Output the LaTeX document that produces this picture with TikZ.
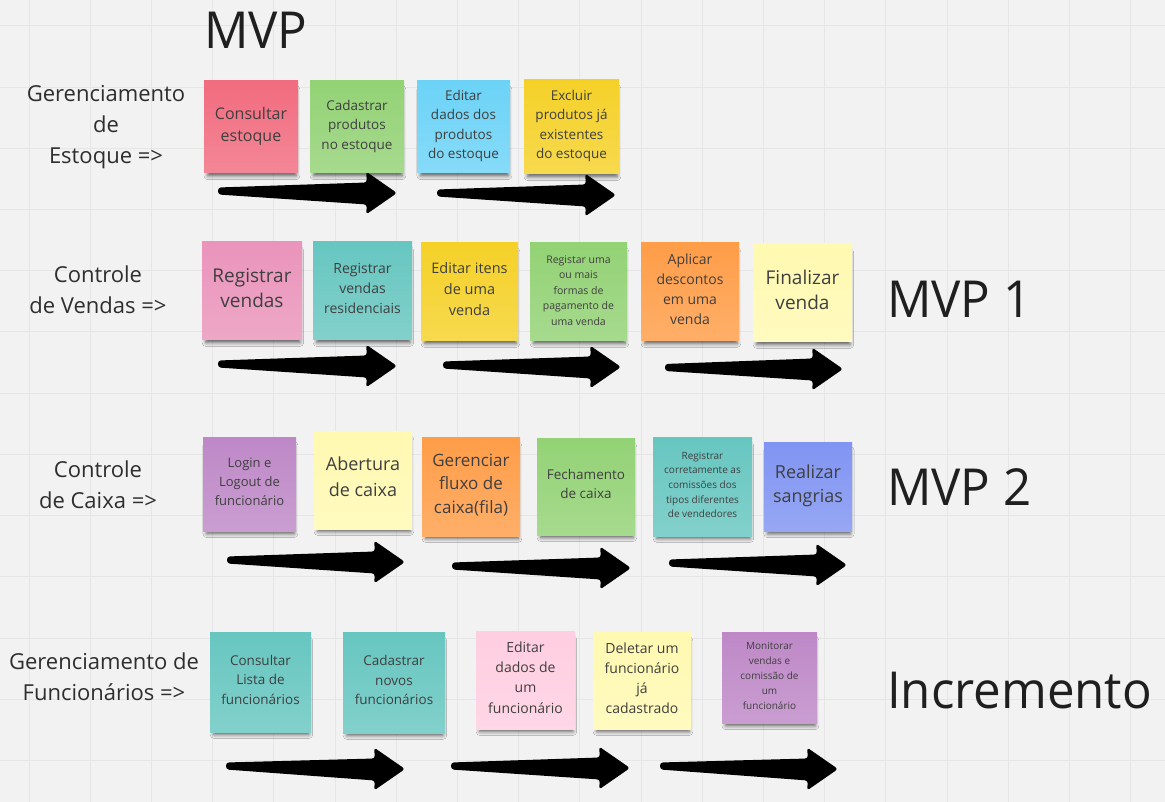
\documentclass[tikz,border=0pt]{standalone}
\usepackage{fontspec}
\setmainfont{Open Sans}
\newfontfamily\titlefont[FakeStretch=0.965]{Open Sans}
\usetikzlibrary{shadows.blur,calc}
\definecolor{bgc}{HTML}{F2F2F2}
\definecolor{gridc}{HTML}{E6E6E6}
\definecolor{nred}{HTML}{F16C7F}
\definecolor{ngreen}{HTML}{93D275}
\definecolor{nblue}{HTML}{6CD3F7}
\definecolor{nyellow}{HTML}{F5D128}
\definecolor{npink}{HTML}{EA94BB}
\definecolor{ncyan}{HTML}{67C6C0}
\definecolor{norange}{HTML}{FF9D48}
\definecolor{nlyellow}{HTML}{FFF9B1}
\definecolor{nviolet}{HTML}{BE88C7}
\definecolor{ndblue}{HTML}{8094F2}
\definecolor{nlpink}{HTML}{FFCEE0}
\definecolor{notetext}{HTML}{3F3F3F}
\definecolor{labtext}{HTML}{2E2E2E}
\newcommand\fatarrow[2]{%
  \fill[arrowfill] ($(#1)+(0,-3.5)$) -- ($(#2)+(-30,-10.5)$) -- ($(#2)+(-31,-21.5)$)
    -- (#2) -- ($(#2)+(-31,21.5)$) -- ($(#2)+(-30,11.5)$) -- ($(#1)+(0,3.5)$) -- cycle;}
\tikzset{
  note/.style={draw=none, inner sep=0pt, align=center, text=notetext,
    top color=#1, bottom color=#1!82!white,
    execute at begin node={\rule{0pt}{0.7\baselineskip}},
    execute at end node={\rule[-\dimexpr0.3\baselineskip-1pt\relax]{0pt}{0pt}},
    blur shadow={shadow xshift=1pt, shadow yshift=-6pt, shadow scale=0.94,
      shadow opacity=62, shadow blur radius=4pt}},
  lab/.style={align=center, inner sep=0pt, text=labtext,
    font=\fontsize{22}{31}\selectfont},
  bigtitle/.style={inner sep=0pt, anchor=base west, text=black!88,
    font=\titlefont\fontsize{51}{60}\selectfont},
  arrowfill/.style={fill=black, rounded corners=3pt},
  gridline/.style={draw=gridc, line width=1pt}
}
\begin{document}
\begin{tikzpicture}[x=1pt,y=-1pt]
\fill[bgc] (0,0) rectangle (1165,802);
\useasboundingbox (0,0) rectangle (1165,802);
\foreach \i in {0,...,18} {\draw[gridline] ({29+61.2*\i},0) -- ({29+61.2*\i},802);}
\foreach \j in {0,...,12} {\draw[gridline] (0,{26+61.2*\j}) -- (1165,{26+61.2*\j});}

% titles
\node[bigtitle] (mvp)  at (204,49)  {MVP};
\node[bigtitle] (mvp1) at (887,318) {MVP 1};
\node[bigtitle] (mvp2) at (887,505) {MVP 2};
\node[bigtitle] (inc)  at (887,708) {Incremento};

% row labels
\node[lab] (l1) at (106,127) {Gerenciamento\\de\\Estoque =>};
\node[lab] (l2) at (98,289.5) {Controle\\de Vendas =>};
\node[lab] (l3) at (98,484.5) {Controle\\de Caixa =>};
\node[lab] (l4) at (104,677) {Gerenciamento de\\Funcionários =>};

% row 1
\node[note=nred, minimum width=94, minimum height=92, font=\fontsize{16}{22}\selectfont] (n11) at (251,127) {Consultar\\estoque};
\node[note=ngreen, minimum width=94, minimum height=92, font=\fontsize{13.5}{19.5}\selectfont] (n12) at (357,127) {Cadastrar\\produtos\\no estoque};
\node[note=nblue, minimum width=93, minimum height=92, font=\fontsize{13.5}{19.5}\selectfont] (n13) at (463.5,127) {Editar\\dados dos\\produtos\\do estoque};
\node[note=nyellow, minimum width=95, minimum height=94, font=\fontsize{13.5}{19.5}\selectfont] (n14) at (571.5,127) {Excluir\\produtos já\\existentes\\do estoque};

% row 2
\node[note=npink, minimum width=100, minimum height=98, font=\fontsize{19}{25}\selectfont] (n21) at (252,291) {Registrar\\vendas};
\node[note=ncyan, minimum width=99, minimum height=98, font=\fontsize{14}{20}\selectfont] (n22) at (362.5,291) {Registrar\\vendas\\residenciais};
\node[note=nyellow, minimum width=97, minimum height=98, font=\fontsize{14.5}{21}\selectfont] (n23) at (469.5,292) {Editar itens\\de uma\\venda};
\node[note=ngreen, minimum width=97, minimum height=98, font=\fontsize{10.5}{15.5}\selectfont] (n24) at (578.5,292) {Registar uma\\ou mais\\formas de\\pagamento de\\uma venda};
\node[note=norange, minimum width=98, minimum height=98, font=\fontsize{14}{20}\selectfont] (n25) at (690,292) {Aplicar\\descontos\\em uma\\venda};
\node[note=nlyellow, minimum width=99, minimum height=98, font=\fontsize{19}{25}\selectfont] (n26) at (802.5,293) {Finalizar\\venda};

% row 3
\node[note=nviolet, minimum width=93, minimum height=94, font=\fontsize{13}{19}\selectfont] (n31) at (249.5,484) {Login e\\Logout de\\funcionário};
\node[note=nlyellow, minimum width=98, minimum height=98, font=\fontsize{18}{26}\selectfont] (n32) at (363,480) {Abertura\\de caixa};
\node[note=norange, minimum width=98, minimum height=99, font=\fontsize{17}{23.5}\selectfont] (n33) at (471,486.5) {Gerenciar\\fluxo de\\caixa(fila)};
\node[note=ngreen, minimum width=98, minimum height=97, font=\fontsize{13.5}{19}\selectfont] (n34) at (586,486.5) {Fechamento\\de caixa};
\node[note=ncyan, minimum width=99, minimum height=99, font=\fontsize{10}{14.7}\selectfont] (n35) at (702.5,486.5) {Registrar\\corretamente as\\comissões dos\\tipos diferentes\\de vendedores};
\node[note=ndblue, minimum width=88, minimum height=89, font=\fontsize{18}{24}\selectfont] (n36) at (808,486.5) {Realizar\\sangrias};

% row 4
\node[note=ncyan, minimum width=101, minimum height=100, font=\fontsize{13.5}{19.5}\selectfont] (n41) at (260.5,682) {Consultar\\Lista de\\funcionários};
\node[note=ncyan, minimum width=102, minimum height=101, font=\fontsize{13.5}{19.5}\selectfont] (n42) at (394,682.5) {Cadastrar\\novos\\funcionários};
\node[note=nlpink, minimum width=99, minimum height=98, font=\fontsize{14}{20.3}\selectfont] (n43) at (525.5,680) {Editar\\dados de\\um\\funcionário};
\node[note=nlyellow, minimum width=98, minimum height=97, font=\fontsize{14}{20}\selectfont] (n44) at (642,680.5) {Deletar um\\funcionário\\já\\cadastrado};
\node[note=nviolet, minimum width=95, minimum height=91, font=\fontsize{10}{15}\selectfont] (n45) at (769.5,677.5) {Monitorar\\vendas e\\comissão de\\um\\funcionário};

% arrows
\coordinate (a11t) at (218,191); \coordinate (a11h) at (397,193);
\coordinate (a12t) at (437,193); \coordinate (a12h) at (616,195);
\coordinate (a21t) at (218,364); \coordinate (a21h) at (397,366);
\coordinate (a22t) at (443,365); \coordinate (a22h) at (621,367);
\coordinate (a23t) at (665,367.5); \coordinate (a23h) at (843,369);
\coordinate (a31t) at (227,560); \coordinate (a31h) at (405,562);
\coordinate (a32t) at (452,566); \coordinate (a32h) at (631,568);
\coordinate (a33t) at (669,563); \coordinate (a33h) at (847,565);
\coordinate (a41t) at (226,766); \coordinate (a41h) at (405,769);
\coordinate (a42t) at (451,766); \coordinate (a42h) at (630,768);
\coordinate (a43t) at (660,766); \coordinate (a43h) at (838,769);
\fatarrow{a11t}{a11h}\fatarrow{a12t}{a12h}
\fatarrow{a21t}{a21h}\fatarrow{a22t}{a22h}\fatarrow{a23t}{a23h}
\fatarrow{a31t}{a31h}\fatarrow{a32t}{a32h}\fatarrow{a33t}{a33h}
\fatarrow{a41t}{a41h}\fatarrow{a42t}{a42h}\fatarrow{a43t}{a43h}
\end{tikzpicture}
\end{document}
